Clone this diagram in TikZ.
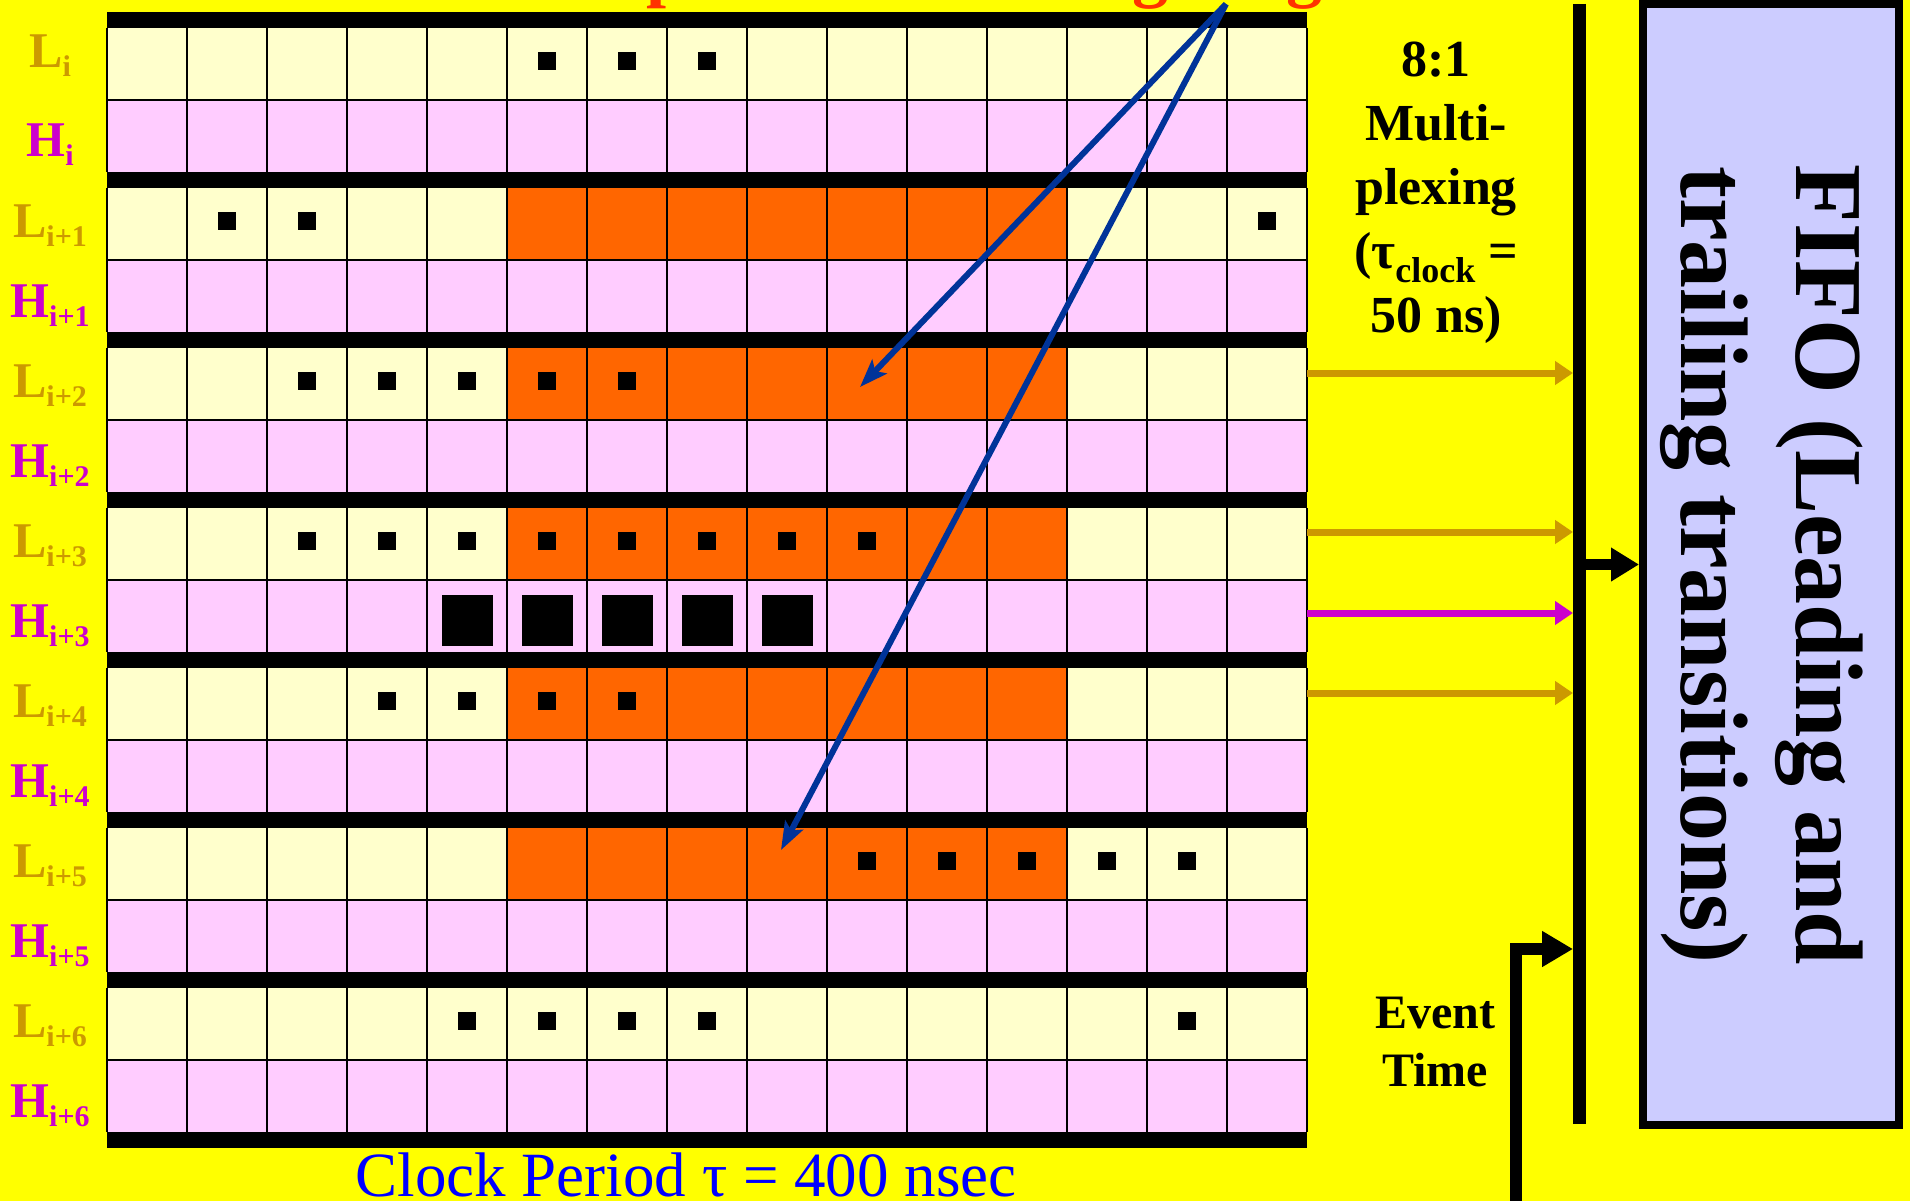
\documentclass[tikz,border=0pt]{standalone}
\usepackage{fontspec}
\setmainfont{Liberation Serif}
\usetikzlibrary{arrows.meta}
\definecolor{bgyellow}{RGB}{255,255,0}
\definecolor{lcell}{RGB}{255,255,204}
\definecolor{hcell}{RGB}{255,204,255}
\definecolor{hitcell}{RGB}{255,102,0}
\definecolor{lgold}{RGB}{204,153,0}
\definecolor{hmag}{RGB}{204,0,204}
\definecolor{trackblue}{RGB}{0,51,153}
\definecolor{fifoblue}{RGB}{204,204,255}
\definecolor{titlered}{RGB}{255,51,0}
\newcommand\fsz[2]{\fontsize{#1}{#2}\selectfont}
\newcommand\rowlab[2]{#1\raisebox{-9pt}{\fsz{30}{30}#2}}

\begin{document}
\begin{tikzpicture}[x=1pt,y=-1pt,line join=miter,
  every node/.style={inner sep=0pt},
  lab/.style={anchor=base,font=\bfseries\fsz{50}{50}},
  feed/.style={line width=7pt,-{Triangle[length=18pt,width=23pt]}},
  track/.style={trackblue,line width=6pt,-{Stealth[length=28pt,width=20pt,inset=6pt]}}]
  \def\gx{107}  % 网格左边
  \def\cw{80}   % 格宽
  \def\gy{28}   % 第一行顶
  \def\rh{72}   % 行高
  \def\pp{160}  % 每组 (L,H) 周期
  \useasboundingbox (0,0) rectangle (1910,1201);
  \clip (0,0) rectangle (1910,1201);
  \fill[bgyellow] (0,0) rectangle (1910,1201);
  % 顶部被截去的标题
  \node[anchor=base west,text=titlered,font=\bfseries\fsz{72}{72}] (tp) at (646,-6) {p};
  \node[anchor=base west,text=titlered,font=\bfseries\fsz{72}{72}] (tg1) at (1132,-6) {g};
  \node[anchor=base west,text=titlered,font=\bfseries\fsz{72}{72}] (tg2) at (1286,-6) {g};
  % 行底色
  \foreach \k in {0,...,6} {
    \fill[lcell] (\gx,{\gy+\pp*\k}) rectangle ({\gx+15*\cw},{\gy+\pp*\k+\rh});
    \fill[hcell] (\gx,{\gy+\pp*\k+\rh}) rectangle ({\gx+15*\cw},{\gy+\pp*\k+2*\rh});
  }
  % 击中区
  \foreach \k in {1,...,5}
    \fill[hitcell] ({\gx+5*\cw},{\gy+\pp*\k}) rectangle ({\gx+12*\cw},{\gy+\pp*\k+\rh});
  % 小方点 (L 行)
  \foreach \k/\cols in {0/{5,6,7},1/{1,2,14},2/{2,3,4,5,6},3/{2,3,4,5,6,7,8,9},
      4/{3,4,5,6},5/{9,10,11,12,13},6/{4,5,6,7,13}}
    \foreach \c in \cols
      \fill ({\gx+(\c+0.5)*\cw-9},{\gy+\pp*\k+24}) rectangle ++(18,18);
  % 大方块 (H_{i+3})
  \foreach \c in {4,...,8}
    \fill ({\gx+(\c+0.5)*\cw-25.5},{\gy+\pp*3+\rh+15}) rectangle ++(51,51);
  % 细格线
  \foreach \k in {0,...,6} {
    \foreach \c in {0,...,15}
      \draw[line width=2pt] ({\gx+\c*\cw},{\gy+\pp*\k}) -- ++(0,{2*\rh});
    \draw[line width=2.5pt] (\gx,{\gy+\pp*\k+\rh}) -- ++({15*\cw},0);
  }
  % 粗横条
  \foreach \k in {0,...,7}
    \fill (\gx,{\gy+\pp*\k-16}) rectangle ({\gx+15*\cw},{\gy+\pp*\k});
  % 行标
  \foreach \k/\s/\d in {0/i/-9,1/i+1/0,2/i+2/0,3/i+3/0,4/i+4/0,5/i+5/0,6/i+6/0} {
    \node[lab,text=lgold] (L\k) at (50,{77+\pp*\k+\d}) {\rowlab{L}{\s}};
    \node[lab,text=hmag] (H\k) at (50,{157+\pp*\k}) {\rowlab{H}{\s}};
  }
  % 径迹
  \coordinate (apex) at (1226,4);
  \coordinate (hitA) at (860,387);
  \coordinate (hitB) at (781,850);
  \draw[track] (apex) -- (hitA);
  \draw[track] (apex) -- (hitB);
  \node[anchor=base,text=blue,font=\fsz{63}{63}] (clk) at (686,1196) {Clock Period τ = 400 nsec};
  % 复用与总线
  \node[anchor=north,align=center,font=\bfseries\fsz{52}{64}] (mux) at (1436,42)
    {8:1\\Multi-\\plexing\\(τ\raisebox{-14pt}{\fsz{36}{36}clock} =\\50 ns)};
  \coordinate (busT) at (1579.5,4);
  \coordinate (busB) at (1579.5,1124);
  \draw[line width=13pt] (busT) -- (busB);
  \foreach \i/\y/\col in {1/373/lgold,2/532/lgold,3/613/hmag,4/693/lgold} {
    \coordinate (fs\i) at (1307,\y);
    \coordinate (fe\i) at (1573,\y);
    \draw[feed,\col] (fs\i) -- (fe\i);
  }
  % FIFO
  \node[draw=black,line width=8pt,fill=fifoblue,minimum width=256pt,minimum height=1120pt] (fifo) at (1771,564.5) {};
  \node[rotate=-90,align=center,font=\bfseries\fsz{96}{115}] (fifotxt) at (1762,565)
    {FIFO (Leading and\\trailing transitions)};
  \coordinate (busM) at (1579.5,564.5);
  \draw[line width=11pt,-{Triangle[length=28pt,width=32pt]}] (busM) -- (fifo.west);
  % 事件时间
  \node[anchor=north,align=center,font=\bfseries\fsz{48}{58}] (evt) at (1435,997) {Event\\Time};
  \coordinate (evtS) at (1516,1215);
  \coordinate (evtE) at (1573,949);
  \draw[line width=12pt,-{Triangle[length=31pt,width=34pt]}] (evtS) |- (evtE);
\end{tikzpicture}
\end{document}
